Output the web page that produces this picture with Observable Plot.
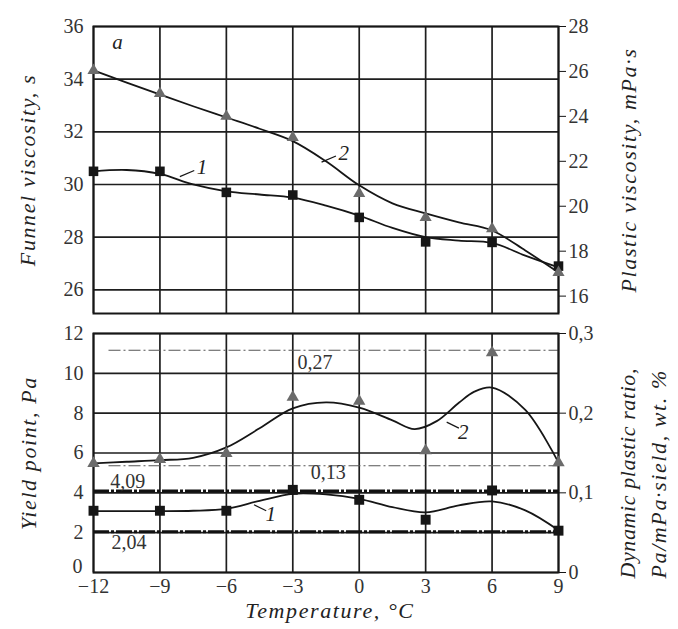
<!DOCTYPE html>
<html><head><meta charset="utf-8">
<script src="https://cdn.jsdelivr.net/npm/d3@7"></script>
<script src="https://cdn.jsdelivr.net/npm/@observablehq/plot@0.6"></script>
<style>
body{margin:0;background:#fff}
#chart{position:relative;width:678px;height:629px;background:#fff;overflow:hidden}
#chart svg{position:absolute;left:0}
#chart svg, #chart svg text{font-family:"Liberation Serif","Times New Roman",Times,serif !important}
.ttl text{letter-spacing:1.6px}
.ttl2 text{letter-spacing:0.6px}
</style></head><body><div id="chart"></div>
<script>
// ---- data ----
const temps = [-12, -9, -6, -3, 0, 3, 6, 9];
const funnel = [30.5, 30.5, 29.7, 29.6, 28.75, 27.82, 27.8, 26.9];          // curve 1 top, s
const plastic = [26.04, 25.02, 24.0, 23.06, 20.57, 19.5, 19.0, 17.05];      // curve 2 top, mPa·s
const yieldPt = [3.1, 3.1, 3.1, 4.15, 3.65, 2.65, 4.12, 2.1];               // curve 1 bottom, Pa
const ratio = [0.137, 0.142, 0.1495, 0.22, 0.215, 0.153, 0.276, 0.138];     // curve 2 bottom
// smooth fitted curves
const fitT = [-12, -10.5, -9, -7.5, -6, -4.5, -3, -1.5, 0, 1.5, 3, 4.5, 6, 7.5, 9];
const funnelFit = [30.5, 30.55, 30.4, 30.0, 29.74, 29.62, 29.5, 29.2, 28.82, 28.35, 28.0, 27.87, 27.78, 27.3, 26.85];
const plasticFit = [26.05, 25.5, 24.97, 24.45, 23.95, 23.45, 22.9, 22.0, 20.93, 20.13, 19.68, 19.28, 18.92, 18.03, 17.05];
const yieldFit = [3.08, 3.08, 3.08, 3.1, 3.2, 3.6, 3.95, 3.92, 3.7, 3.28, 3.02, 3.37, 3.57, 3.12, 2.12];
const ratioFitT = [-12, -10.5, -9, -7.5, -6, -4.5, -3, -1.5, 0, 1.5, 2.5, 3.5, 4.5, 5.2, 6, 7.5, 9];
const ratioFit = [0.137, 0.139, 0.141, 0.144, 0.157, 0.181, 0.206, 0.2135, 0.207, 0.191, 0.180, 0.19, 0.213, 0.227, 0.232, 0.204, 0.138];
// ticks
const xTicks = [-12, -9, -6, -3, 0, 3, 6, 9];
const funnelTicks = [26, 28, 30, 32, 34, 36];
const plasticTicks = [16, 18, 20, 22, 24, 26, 28];
const yieldTicks = [0, 2, 4, 6, 8, 10, 12];
const ratioTicks = [0, 0.1, 0.2, 0.3];
// reference lines
const yieldRefs = [4.09, 2.04];
const yieldRefLabels = ["4,09", "2,04"];
const ratioRefs = [0.279, 0.134];
const ratioRefLabels = ["0,27", "0,13"];
// curve labels (data coordinates)
const topLabelT = [-7.1, -0.7];
const topLabelV = [30.65, 31.2];
const topLabelText = ["1", "2"];
const botLabelT = [-4.0, 4.7];
const botLabelV = [2.9, 7.05];
const botLabelText = ["1", "2"];

// ---- right axis mappings ----
const topL = [25.76, 36.0], topR = [16, 28];
const toTop = r => topL[0] + (r - topR[0]) * (topL[1] - topL[0]) / (topR[1] - topR[0]);
const fromTop = v => topR[0] + (v - topL[0]) * (topR[1] - topR[0]) / (topL[1] - topL[0]);
const botK = 40;
const toBot = r => r * botK;
const fromBot = v => v / botK;

const topPts = temps.map((t, i) => ({t, a: funnel[i], b: toTop(plastic[i])}));
const topFit = fitT.map((t, i) => ({t, a: funnelFit[i], b: toTop(plasticFit[i])}));
const botPts = temps.map((t, i) => ({t, a: yieldPt[i], b: toBot(ratio[i])}));
const botFitA = fitT.map((t, i) => ({t, a: yieldFit[i]}));
const botFitB = ratioFitT.map((t, i) => ({t, b: toBot(ratioFit[i])}));

const FONT = "'Liberation Serif', 'Times New Roman', Times, serif";
const INK = "#161616", TXT = "#333", GRID = "#1e1e1e", TRI = "#6b6b6b";
const style = {fontFamily: FONT, fontSize: "20px", color: TXT, background: "transparent", overflow: "visible"};
const titleOpts = {fontSize: 22, fontStyle: "italic", fill: "#222", rotate: -90, className: "ttl", textAnchor: "middle", lineAnchor: "middle"};

const topPlot = Plot.plot({
  width: 678, height: 322,
  marginLeft: 93, marginRight: 120, marginTop: 26, marginBottom: 9,
  style,
  x: {domain: [-12, 9], axis: null},
  y: {domain: [25.1, 36]},
  marks: [
    Plot.gridX(xTicks, {stroke: GRID, strokeOpacity: 1, strokeWidth: 1.7}),
    Plot.gridY(funnelTicks, {stroke: GRID, strokeOpacity: 1, strokeWidth: 1.7}),
    Plot.frame({stroke: INK, strokeWidth: 2}),
    Plot.axisY(funnelTicks, {anchor: "left", tickSize: 0, tickPadding: 10, label: null}),
    Plot.axisY(plasticTicks.map(toTop), {anchor: "right", tickSize: 7, tickPadding: 3, label: null,
      tickFormat: d => String(Math.round(fromTop(d))), stroke: INK}),
    Plot.line(topFit, {x: "t", y: "a", curve: "catmull-rom", stroke: INK, strokeWidth: 1.8}),
    Plot.line(topFit, {x: "t", y: "b", curve: "catmull-rom", stroke: INK, strokeWidth: 1.8}),
    Plot.dot(topPts, {x: "t", y: "a", symbol: "square", r: 5.4, fill: INK, stroke: null}),
    Plot.dot(topPts, {x: "t", y: "b", symbol: "triangle", r: 4.5, fill: TRI, stroke: null}),
    Plot.link(topLabelT, {x1: (d, i) => d - 1.0, y1: (d, i) => topLabelV[i] - 0.35, x2: (d, i) => d - 0.35, y2: (d, i) => topLabelV[i] - 0.12, stroke: INK, strokeWidth: 1.2}),
    Plot.text(topLabelT, {x: d => d, y: (d, i) => topLabelV[i], text: (d, i) => topLabelText[i], fontStyle: "italic", fontSize: 21, fill: "#222"}),
    Plot.text(["a"], {x: -10.92, y: 35.42, text: d => d, fontStyle: "italic", fontSize: 21, fill: "#222"}),
    Plot.text(["Funnel viscosity, s"], {...titleOpts, frameAnchor: "left", dx: -66}),
    Plot.text(["Plastic viscosity, mPa·s"], {...titleOpts, frameAnchor: "right", dx: 70})
  ]
});
topPlot.style.top = "0px";

const botPlot = Plot.plot({
  width: 678, height: 307,
  marginLeft: 93, marginRight: 120, marginTop: 11, marginBottom: 57,
  style,
  x: {domain: [-12, 9]},
  y: {domain: [0, 12]},
  marks: [
    Plot.gridX(xTicks, {stroke: GRID, strokeOpacity: 1, strokeWidth: 1.7}),
    Plot.gridY(yieldTicks, {stroke: GRID, strokeOpacity: 1, strokeWidth: 1.7}),
    Plot.ruleY(ratioRefs.map(toBot), {x1: -11.3, x2: 9, stroke: "#555", strokeWidth: 1.1, strokeDasharray: "12,3,2,3"}),
    Plot.ruleY(yieldRefs, {stroke: "#111", strokeWidth: 3, strokeDasharray: "16,2,3,2"}),
    Plot.frame({stroke: INK, strokeWidth: 2}),
    Plot.axisX(xTicks, {anchor: "bottom", tickSize: 0, tickPadding: 6, label: null}),
    Plot.axisY(yieldTicks.filter(d => d > 0), {anchor: "left", tickSize: 0, tickPadding: 10, label: null}),
    Plot.axisY(yieldTicks.filter(d => d === 0), {anchor: "left", tickSize: 0, tickPadding: 11, label: null, dy: -6}),
    Plot.axisY(ratioTicks.map(toBot), {anchor: "right", tickSize: 7, tickPadding: 3, label: null,
      tickFormat: d => { const r = Math.round(fromBot(d) * 10) / 10; return r === 0 ? "0" : String(r).replace(".", ","); }, stroke: INK}),
    Plot.line(botFitA, {x: "t", y: "a", curve: "catmull-rom", stroke: INK, strokeWidth: 1.8}),
    Plot.line(botFitB, {x: "t", y: "b", curve: "catmull-rom", stroke: INK, strokeWidth: 1.8}),
    Plot.dot(botPts, {x: "t", y: "a", symbol: "square", r: 5.6, fill: INK, stroke: null}),
    Plot.dot(botPts, {x: "t", y: "b", symbol: "triangle", r: 4.6, fill: TRI, stroke: null}),
    Plot.text([0], {x: -10.45, y: yieldRefs[0], text: () => yieldRefLabels[0], dy: -9, fill: TXT}),
    Plot.text([1], {x: -10.4, y: yieldRefs[1], text: () => yieldRefLabels[1], dy: 11, fill: TXT}),
    Plot.text([0], {x: -2.0, y: toBot(ratioRefs[0]), text: () => ratioRefLabels[0], dy: 12, fill: TXT}),
    Plot.text([1], {x: -1.4, y: toBot(ratioRefs[1]), text: () => ratioRefLabels[1], dy: 7, fill: TXT}),
    Plot.link(botLabelT, {x1: (d, i) => d - 0.75, y1: (d, i) => botLabelV[i] + 0.5, x2: (d, i) => d - 0.2, y2: (d, i) => botLabelV[i] + 0.2, stroke: INK, strokeWidth: 1.2}),
    Plot.text(botLabelT, {x: d => d, y: (d, i) => botLabelV[i], text: (d, i) => botLabelText[i], fontStyle: "italic", fontSize: 21, fill: "#222"}),
    Plot.text(["Yield point, Pa"], {...titleOpts, frameAnchor: "left", dx: -65}),
    Plot.text(["Dynamic plastic ratio,"], {...titleOpts, className: "ttl2", frameAnchor: "bottom-right", dx: 69, dy: 6, textAnchor: "start"}),
    Plot.text(["Pa/mPa·sield, wt. %"], {...titleOpts, frameAnchor: "bottom-right", dx: 100, dy: 6, textAnchor: "start"}),
    Plot.text(["Temperature, °C"], {fontSize: 22, fontStyle: "italic", fill: "#222", className: "ttl", frameAnchor: "bottom", lineAnchor: "middle", textAnchor: "middle", dx: 4, dy: 38})
  ]
});
botPlot.style.top = "322px";

const host = document.getElementById("chart");
host.appendChild(topPlot);
host.appendChild(botPlot);
</script></body></html>
